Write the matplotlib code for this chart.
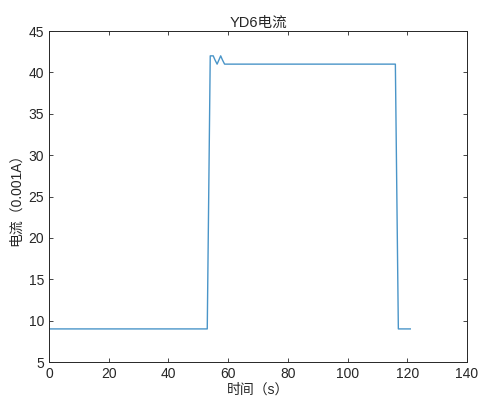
import matplotlib
matplotlib.use("Agg")
import matplotlib.pyplot as plt

plt.rcParams['font.family'] = ['Liberation Sans', 'Noto Sans CJK SC', 'DejaVu Sans']

time_s = [0, 53, 54, 55, 55.6, 56.3, 56.9, 57.5, 58.1, 58.8, 116, 117, 121]
current = [9, 9, 42, 42, 41.5, 41, 41.5, 42, 41.5, 41, 41, 9, 9]
xticks = [0, 20, 40, 60, 80, 100, 120, 140]
yticks = [5, 10, 15, 20, 25, 30, 35, 40, 45]

fig = plt.figure(figsize=(4.79, 4.03), dpi=100)
ax = fig.add_axes([0.1023, 0.1017, 0.8727, 0.8213])
ax.plot(time_s, current, color='#4a95c8', linewidth=1.0)
ax.set_xlim(0, 140)
ax.set_ylim(5, 45)
ax.set_xticks(xticks)
ax.set_yticks(yticks)
ax.tick_params(direction='in', top=True, right=True, labelsize=10, colors='#262626', length=3, width=0.6)
for s in ax.spines.values():
    s.set_color('#262626')
    s.set_linewidth(0.7)
ax.set_title('YD6电流', fontsize=10.5, color='#262626', pad=3)
ax.set_xlabel('时间（s）', fontsize=10, color='#262626', labelpad=1)
ax.set_ylabel('电流（0.001A）', fontsize=10, color='#262626', labelpad=4)
fig.savefig('out.png', dpi=100)
